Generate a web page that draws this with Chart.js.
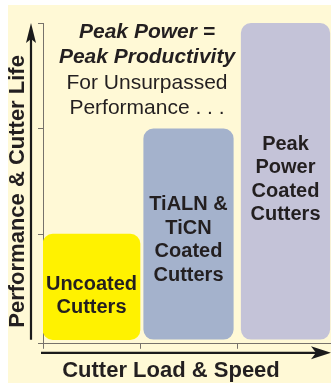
<!DOCTYPE html>
<html>
<head>
<meta charset="utf-8">
<script src="https://cdn.jsdelivr.net/npm/chart.js@4"></script>
<style>
  html, body { margin: 0; padding: 0; background: #fff; overflow: hidden; }
  #panel { position: absolute; left: 8px; top: 5px; width: 330px; height: 378px; background: #fff9d6; }
</style>
</head>
<body>
<div id="panel"><canvas id="myChart" width="330" height="378"></canvas></div>
<script>
// categories and values
const categories = ["Uncoated Cutters", "TiALN & TiCN Coated Cutters", "Peak Power Coated Cutters"];
const barLabels = [["Uncoated", "Cutters"], ["TiALN &", "TiCN", "Coated", "Cutters"], ["Peak", "Power", "Coated", "Cutters"]];
const values = [1, 2, 3];
const yTicks = [1, 2, 3];
const heading = ["Peak Power =", "Peak Productivity", "For Unsurpassed", "Performance . . ."];
const xTitle = "Cutter Load & Speed";
const yTitle = "Performance & Cutter Life";

const barColors = ['#fff200', '#a4b2cc', '#c4c3d8'];
const barWidths = [1, 0.93, 0.92];
const labelShift = [9, 6, -2];
const ink = '#231f20';
const axisGrey = '#77726b';
const fontFam = '"Liberation Sans", Arial, sans-serif';

// text inside the bars
const barText = {
  id: 'barText',
  afterDatasetsDraw(chart) {
    const c = chart.ctx;
    c.save();
    c.fillStyle = ink;
    c.font = 'bold 20px ' + fontFam;
    c.textAlign = 'center';
    c.textBaseline = 'middle';
    barLabels.forEach((lines, i) => {
      const bar = chart.getDatasetMeta(i).data[i];
      const mid = (bar.y + bar.base) / 2 + labelShift[i];
      const gap = 23.5;
      lines.forEach((t, k) => {
        c.fillText(t, bar.x, mid + (k - (lines.length - 1) / 2) * gap);
      });
    });
    c.restore();
  }
};

// heading text, y title, black arrows
const extras = {
  id: 'extras',
  afterDraw(chart) {
    const c = chart.ctx;
    const a = chart.chartArea;
    c.save();
    c.fillStyle = ink;
    c.textAlign = 'center';
    c.textBaseline = 'middle';
    heading.forEach((t, k) => {
      c.font = (k < 2 ? 'italic bold ' : '') + '21px ' + fontFam;
      c.fillText(t, a.left + 104, a.top + 9 + k * 25.5);
    });

    // rotated y title
    c.save();
    c.translate(a.left - 25, (a.top + a.bottom) / 2 + 8);
    c.rotate(-Math.PI / 2);
    c.font = 'bold 22px ' + fontFam;
    c.fillText(yTitle, 0, 0);
    c.restore();

    c.strokeStyle = '#1b1b1b';
    c.fillStyle = '#1b1b1b';
    c.lineWidth = 2.2;
    // vertical arrow
    const vx = a.left - 12;
    c.beginPath();
    c.moveTo(vx, a.top + 12);
    c.lineTo(vx, a.bottom - 4);
    c.stroke();
    c.beginPath();
    c.moveTo(vx, a.top);
    c.lineTo(vx + 5, a.top + 20);
    c.lineTo(vx, a.top + 16);
    c.lineTo(vx - 5, a.top + 20);
    c.closePath();
    c.fill();
    // horizontal arrow
    const hy = a.bottom + 9;
    const hx = a.right - 3;
    c.beginPath();
    c.moveTo(a.left - 2, hy);
    c.lineTo(hx - 12, hy);
    c.stroke();
    c.beginPath();
    c.moveTo(hx, hy);
    c.lineTo(hx - 20, hy - 6.5);
    c.lineTo(hx - 15, hy);
    c.lineTo(hx - 20, hy + 6.5);
    c.closePath();
    c.fill();
    c.restore();
  }
};

const ctx = document.getElementById('myChart').getContext('2d');
let barChart = new Chart(ctx, {
  type: 'bar',
  data: {
    labels: categories,
    datasets: values.map((v, i) => ({
      label: categories[i],
      data: values.map((w, j) => (j === i ? w : null)),
      backgroundColor: barColors[i],
      borderRadius: 10,
      borderSkipped: false,
      grouped: false,
      categoryPercentage: 1,
      barPercentage: barWidths[i]
    }))
  },
  options: {
    responsive: false,
    animation: false,
    layout: { padding: { top: 18, right: 4, bottom: 0, left: 0 } },
    plugins: {
      legend: { display: false },
      tooltip: { enabled: false },
      title: {
        display: true,
        position: 'bottom',
        text: xTitle,
        color: ink,
        padding: 0,
        font: { family: fontFam, size: 22, weight: 'bold', lineHeight: 1.1 }
      }
    },
    scales: {
      x: {
        offset: true,
        grid: {
          offset: true,
          drawOnChartArea: false,
          tickLength: 5,
          color: (c) => (c.index === 3 ? 'rgba(0,0,0,0)' : axisGrey)
        },
        border: { color: axisGrey, width: 1 },
        ticks: { display: false },
        afterFit: (s) => { s.height = 15; }
      },
      y: {
        min: -0.04,
        max: 3,
        afterBuildTicks: (s) => { s.ticks = [s.min].concat(yTicks).map(v => ({ value: v })); },
        grid: { drawOnChartArea: false, tickLength: 5, color: axisGrey },
        border: { color: axisGrey, width: 1 },
        ticks: { display: false },
        afterFit: (s) => { s.width = 35; }
      }
    }
  },
  plugins: [barText, extras]
});
</script>
</body>
</html>
